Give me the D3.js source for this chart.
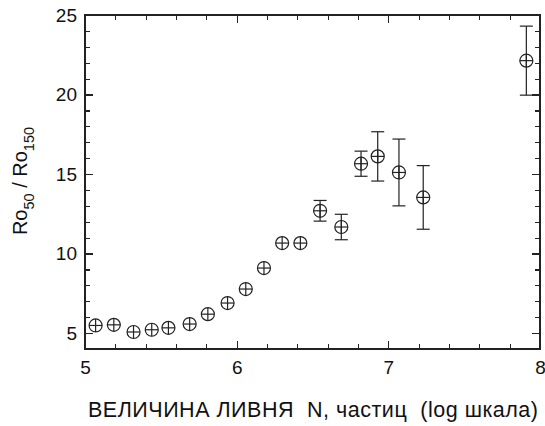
<!DOCTYPE html>
<html>
<head>
<meta charset="utf-8">
<script src="https://cdn.jsdelivr.net/npm/d3@7"></script>
<style>
  body { margin: 0; background: #fff; }
  svg { display: block; font-family: "Liberation Sans", Arial, sans-serif; }
  .axis path, .axis line { stroke: #222; stroke-width: 1.2; shape-rendering: crispEdges; }
  .axis text { font-size: 19px; fill: #111; }
</style>
</head>
<body>
<svg id="svg" width="545" height="426"></svg>
<script>
// shower size (log N) and ratio Ro50/Ro150 with errors
const logN  = [5.07, 5.19, 5.32, 5.44, 5.55, 5.69, 5.81, 5.94, 6.06, 6.18, 6.30, 6.42, 6.55, 6.69, 6.82, 6.93, 7.07, 7.23, 7.91];
const ratio = [5.48, 5.52, 5.07, 5.21, 5.33, 5.57, 6.19, 6.89, 7.77, 9.09, 10.66, 10.66, 12.69, 11.67, 15.65, 16.11, 15.10, 13.53, 22.13];
const err   = [0.10, 0.10, 0.10, 0.10, 0.10, 0.10, 0.15, 0.15, 0.20, 0.25, 0.30, 0.30, 0.65, 0.80, 0.79, 1.55, 2.10, 2.00, 2.17];

const xTicks = [5, 6, 7, 8];
const yTicks = [5, 10, 15, 20, 25];
const xTitle = "ВЕЛИЧИНА ЛИВНЯ  N, частиц  (log шкала)";

const margin = {top: 15, right: 5, bottom: 77, left: 85};
const width = 545 - margin.left - margin.right;
const height = 426 - margin.top - margin.bottom;

const svg = d3.select("#svg");
const g = svg.append("g").attr("transform", `translate(${margin.left},${margin.top})`);

const x = d3.scaleLinear().domain([5, 8]).range([0, width]);
const y = d3.scaleLinear().domain([4, 25]).range([height, 0]);

const xMinor = d3.range(5, 8.001, 0.2).map(v => +v.toFixed(1)).filter(v => !xTicks.includes(v));
const yMinor = d3.range(4, 25.001, 1).filter(v => !yTicks.includes(v));

// minor ticks
g.append("g").attr("class", "axis").attr("transform", `translate(0,${height})`)
  .call(d3.axisBottom(x).tickValues(xMinor).tickFormat("").tickSize(-5).tickSizeOuter(0));
g.append("g").attr("class", "axis")
  .call(d3.axisTop(x).tickValues(xMinor).tickFormat("").tickSize(-5).tickSizeOuter(0));
g.append("g").attr("class", "axis")
  .call(d3.axisLeft(y).tickValues(yMinor).tickFormat("").tickSize(-5).tickSizeOuter(0));
g.append("g").attr("class", "axis").attr("transform", `translate(${width},0)`)
  .call(d3.axisRight(y).tickValues(yMinor).tickFormat("").tickSize(-5).tickSizeOuter(0));

// major ticks
g.append("g").attr("class", "axis").attr("transform", `translate(0,${height})`)
  .call(d3.axisBottom(x).tickValues(xTicks).tickFormat(d3.format("d")).tickSize(-8).tickSizeOuter(0).tickPadding(12));
g.append("g").attr("class", "axis")
  .call(d3.axisTop(x).tickValues(xTicks).tickFormat("").tickSize(-8).tickSizeOuter(0));
g.append("g").attr("class", "axis")
  .call(d3.axisLeft(y).tickValues(yTicks).tickFormat(d3.format("d")).tickSize(-8).tickSizeOuter(0).tickPadding(8));
g.append("g").attr("class", "axis").attr("transform", `translate(${width},0)`)
  .call(d3.axisRight(y).tickValues(yTicks).tickFormat("").tickSize(-8).tickSizeOuter(0));

g.selectAll(".axis .domain").remove();
g.append("rect")
  .attr("width", width).attr("height", height)
  .attr("fill", "none").attr("stroke", "#222").attr("stroke-width", 1.3)
  .attr("shape-rendering", "crispEdges");

// error bars + markers
const r = 6.5, cap = 6.5;
const data = logN.map((d, i) => ({x: d, y: ratio[i], e: err[i]}));
const pts = g.append("g").attr("stroke", "#222").attr("stroke-width", 1.2).attr("fill", "none");

data.filter(d => (y(d.y - d.e) - y(d.y + d.e)) / 2 > r).forEach(d => {
  const cx = x(d.x), top = y(d.y + d.e), bot = y(d.y - d.e);
  pts.append("line").attr("x1", cx).attr("x2", cx).attr("y1", top).attr("y2", bot);
  pts.append("line").attr("x1", cx - cap).attr("x2", cx + cap).attr("y1", top).attr("y2", top);
  pts.append("line").attr("x1", cx - cap).attr("x2", cx + cap).attr("y1", bot).attr("y2", bot);
});

const m = pts.selectAll(".mk").data(data).enter().append("g")
  .attr("class", "mk")
  .attr("transform", d => `translate(${x(d.x)},${y(d.y)})`);
m.append("circle").attr("r", r).attr("fill", "none");
m.append("line").attr("x1", -r).attr("x2", r);
m.append("line").attr("y1", -r).attr("y2", r);

// titles
svg.append("text")
  .attr("x", 88).attr("y", 417)
  .attr("font-size", 21.5).attr("fill", "#111")
  .attr("textLength", 450).attr("lengthAdjust", "spacing")
  .style("white-space", "pre")
  .text(xTitle);

const yt = svg.append("text")
  .attr("transform", "translate(27,181) rotate(-90)")
  .attr("text-anchor", "middle").attr("font-size", 20).attr("fill", "#111");
yt.append("tspan").text("Ro");
yt.append("tspan").attr("font-size", 14.5).attr("dy", 7).text("50");
yt.append("tspan").attr("dy", -7).text(" / Ro");
yt.append("tspan").attr("font-size", 14.5).attr("dy", 7).text("150");
</script>
</body>
</html>
